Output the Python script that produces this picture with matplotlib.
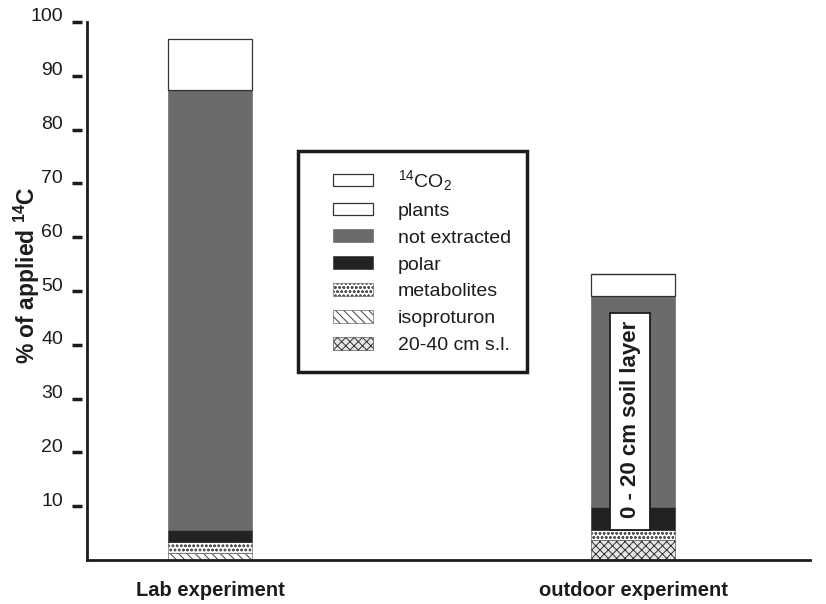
import numpy as np
import matplotlib.pyplot as plt
from matplotlib.patches import Rectangle
from matplotlib.transforms import blended_transform_factory, offset_copy

plt.rcParams['font.family'] = ['Liberation Sans', 'DejaVu Sans']
plt.rcParams['mathtext.default'] = 'regular'
plt.rcParams['hatch.linewidth'] = 0.7

# recovery of applied 14C (% of applied), bottom to top
categories = ['Lab experiment', 'outdoor experiment']
soil_20_40 = [0.0, 3.7]
isoproturon = [1.3, 0.0]
metabolites = [2.0, 1.9]
polar = [2.2, 4.3]
not_extracted = [81.8, 39.1]
plants = [0.0, 4.1]
co2 = [9.5, 0.0]
y_ticks = [10, 20, 30, 40, 50, 60, 70, 80, 90, 100]

ink = '#1c1c1c'

layers = [
    ('20-40 cm s.l.', soil_20_40, dict(color='#e6e6e6', edgecolor='#333333', hatch='xxxx', lw=0.4)),
    ('isoproturon', isoproturon, dict(color='white', edgecolor='#444444', hatch='\\\\\\\\', lw=0.4)),
    ('metabolites', metabolites, dict(color='white', edgecolor='#555555', hatch='oooo', lw=0.4)),
    ('polar', polar, dict(color='#222222', edgecolor='#222222', lw=0.4)),
    ('not extracted', not_extracted, dict(color='#6b6b6b', edgecolor='#5a5a5a', lw=0.4)),
    ('plants', plants, dict(color='white', edgecolor='#333333', lw=0.9)),
    (r'$^{14}$CO$_2$', co2, dict(color='white', edgecolor='#333333', lw=0.9)),
]

fig = plt.figure(figsize=(8.26, 6.04), dpi=100)
ax = fig.add_axes([0.1053, 0.0728, 0.8753, 0.8908])

x = np.arange(len(categories))
width = 0.2
bottom = np.zeros(len(categories))
handles = {}
for name, vals, style in layers:
    vals = np.array(vals)
    bars = ax.bar(x, vals, width, bottom=bottom, label=name, **style)
    handles[name] = bars
    bottom += vals

ax.set_xlim(-0.291, 1.418)
ax.set_ylim(0, 100)

# label box inside the outdoor bar
box_bottom = soil_20_40[1] + metabolites[1]
box_top = 45.9
ax.add_patch(Rectangle((x[1] - 0.055, box_bottom), 0.095, box_top - box_bottom,
                       facecolor='white', edgecolor=ink, lw=1.3, zorder=3))
ax.text(x[1] - 0.007, (box_bottom + box_top) / 2 + 0.4, '0 - 20 cm soil layer',
        rotation=90, ha='center', va='center', fontsize=16,
        fontweight='bold', color=ink, zorder=4)

# axes styling
for side in ['top', 'right']:
    ax.spines[side].set_visible(False)
for side in ['left', 'bottom']:
    ax.spines[side].set_linewidth(2)
    ax.spines[side].set_color(ink)
ax.set_xticks([])
ax.set_yticks([])

# y ticks drawn detached from the axis line
trans = blended_transform_factory(ax.transAxes, ax.transData)
lab_trans = offset_copy(trans, fig=fig, x=-24, y=5, units='dots')
for t in y_ticks:
    ax.plot([-0.021, -0.007], [t, t], transform=trans, color=ink,
            lw=2.5, clip_on=False, solid_capstyle='butt')
    ax.text(0, t, str(t), transform=lab_trans, ha='right', va='center',
            fontsize=14, color=ink)

ax.text(-0.083, 0.53, r'% of applied $^{14}$C', transform=ax.transAxes,
        rotation=90, ha='center', va='center', fontsize=16.5,
        fontweight='bold', color=ink)

for xi, cat in zip(x, categories):
    ax.text(xi, -5.6, cat, ha='center', va='center', fontsize=14.5,
            fontweight='bold', color=ink)

# legend with a separate heavy frame
ax.add_patch(Rectangle((0.2918, 0.3494), 0.3168, 0.4108, transform=ax.transAxes,
                       facecolor='white', edgecolor=ink, lw=2.5,
                       clip_on=False, zorder=4))
order = [r'$^{14}$CO$_2$', 'plants', 'not extracted', 'polar',
         'metabolites', 'isoproturon', '20-40 cm s.l.']
leg = ax.legend([handles[n] for n in order], order, loc='upper left',
                bbox_to_anchor=(0.3402, 0.7286), frameon=False,
                fontsize=14, handlelength=2.06, handleheight=0.62,
                handletextpad=1.29, labelspacing=0.5, borderpad=0,
                borderaxespad=0)
leg.set_zorder(5)
for txt in leg.get_texts():
    txt.set_color(ink)

fig.savefig('out.png', dpi=100)
